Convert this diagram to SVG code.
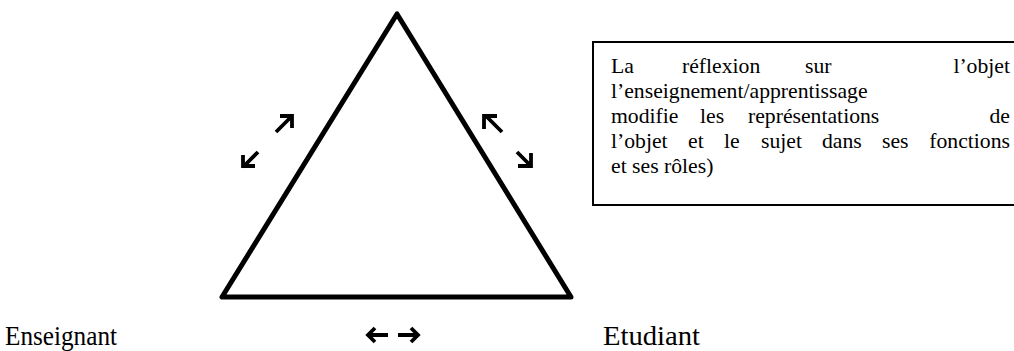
<svg xmlns="http://www.w3.org/2000/svg" width="1014" height="351" viewBox="0 0 1014 351">
<style>
text{font-family:'Liberation Serif','Times New Roman',serif;fill:#000}
.box{font-size:21.7px}
.lab{font-size:28px}
.arr{fill:none;stroke:#000;stroke-width:3.8;stroke-linecap:butt;stroke-linejoin:miter}
</style>
<rect width="1014" height="351" fill="#fff"/>
<g id="triangle">
<polygon points="397,14 222,297 571,297" fill="none" stroke="#000" stroke-width="5" stroke-linejoin="round"/>
</g>
<g id="textbox">
<path d="M1014,42 H593 V205 H1014" fill="none" stroke="#000" stroke-width="2"/>
<text class="box" y="73"><tspan x="611">La</tspan><tspan x="682">réflexion</tspan><tspan x="805">sur</tspan><tspan x="1010" text-anchor="end">l’objet</tspan></text>
<text class="box" x="611" y="98">l’enseignement/apprentissage</text>
<text class="box" y="123"><tspan x="611">modifie</tspan><tspan x="700">les</tspan><tspan x="748">représentations</tspan><tspan x="1010" text-anchor="end">de</tspan></text>
<text class="box" y="148"><tspan x="611">l’objet</tspan><tspan x="688">et</tspan><tspan x="724">le</tspan><tspan x="761">sujet</tspan><tspan x="822">dans</tspan><tspan x="882">ses</tspan><tspan x="1010" text-anchor="end">fonctions</tspan></text>
<text class="box" x="611" y="173">et ses rôles)</text>
</g>
<g id="enseignant"><text class="lab" x="5" y="345" textLength="112" lengthAdjust="spacingAndGlyphs">Enseignant</text></g>
<g id="etudiant"><text class="lab" x="603" y="345" textLength="97" lengthAdjust="spacingAndGlyphs">Etudiant</text></g>
<g id="connectors">
<path class="arr" d="M276,132 L291,117 M280,116 L292,116 L292,128"/>
<path class="arr" d="M258,152 L243,167 M243,155 L243,166 L255,166"/>
<path class="arr" d="M502,132 L487,117 M484,129 L484,116 L497,116"/>
<path class="arr" d="M517,152 L531,166 M531,153 L531,166 L518,166"/>
<path class="arr" d="M388,335 L368,335 M375,328 L368,335 L375,342"/>
<path class="arr" d="M398,335 L418,335 M411,328 L418,335 L411,342"/>
</g>
</svg>
